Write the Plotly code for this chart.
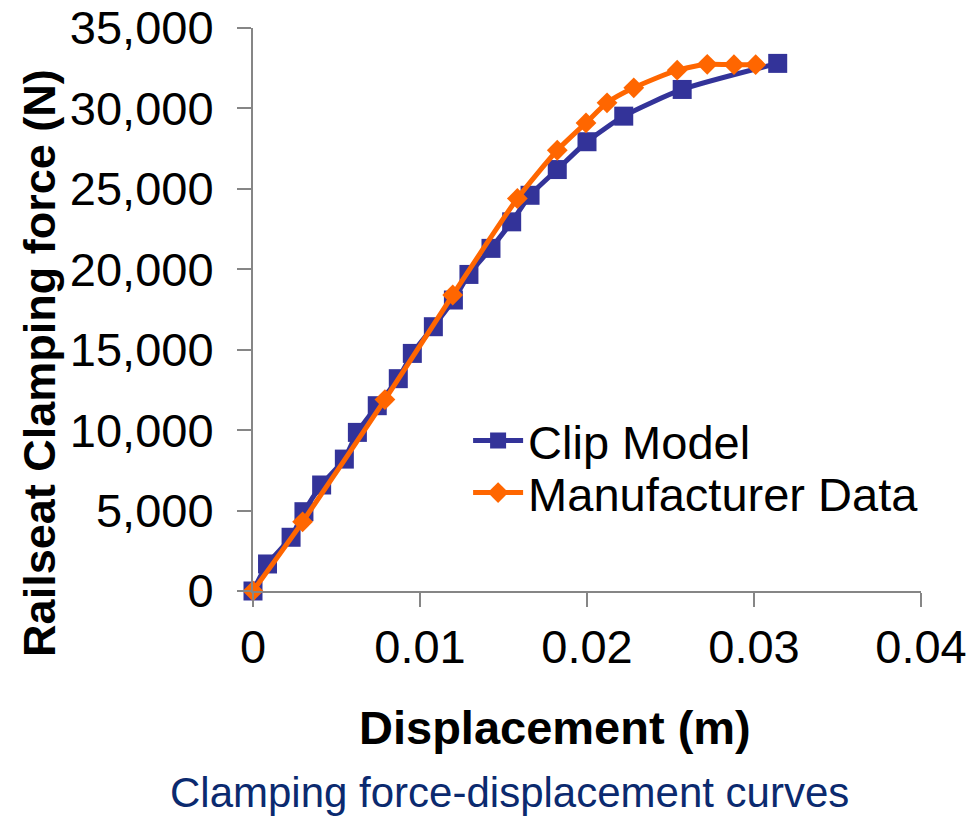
import plotly.graph_objects as go

# Clip model: displacement (m) vs railseat clamping force (N)
clip_disp = [0, 0.00087, 0.00228, 0.00305, 0.00411, 0.00547, 0.00625, 0.00744,
             0.0087, 0.00954, 0.0108, 0.0120, 0.01293, 0.01425, 0.01549,
             0.01659, 0.01822, 0.0200, 0.0222, 0.0257, 0.03142]
clip_force = [0, 1680, 3340, 4930, 6590, 8200, 9860, 11520, 13200, 14770,
              16430, 18090, 19680, 21300, 22950, 24600, 26200, 27930, 29520,
              31180, 32800]

# Manufacturer data
mfr_disp = [0, 0.00297, 0.0079, 0.01196, 0.01583, 0.01822, 0.01994, 0.0212,
            0.0228, 0.0254, 0.0272, 0.0288, 0.0301]
mfr_force = [0, 4300, 11900, 18400, 24400, 27400, 29100, 30350, 31280, 32380,
             32740, 32720, 32720]

series_names = ["Clip Model", "Manufacturer Data"]
x_title = "Displacement (m)"
y_title = "Railseat Clamping force (N)"
caption = "Clamping force-displacement curves"

FONT = "Liberation Sans, Arial, sans-serif"
AXIS_GREY = "#868686"

fig = go.Figure()
fig.add_trace(go.Scatter(
    x=clip_disp, y=clip_force, name=series_names[0], mode="lines+markers",
    line=dict(color="#333399", width=5, shape="spline", smoothing=0.6),
    marker=dict(symbol="square", size=19, color="#333399"),
    cliponaxis=False, legend="legend",
))
fig.add_trace(go.Scatter(
    x=mfr_disp, y=mfr_force, name=series_names[1], mode="lines+markers",
    line=dict(color="#FF6600", width=5, shape="spline", smoothing=0.6),
    marker=dict(symbol="diamond", size=16, color="#FF6600"),
    cliponaxis=False, legend="legend2",
))

axis_common = dict(
    showline=True, linecolor=AXIS_GREY, linewidth=2,
    ticks="outside", ticklen=14, tickwidth=2, tickcolor=AXIS_GREY,
    showgrid=False, zeroline=False, automargin=False,
    tickfont=dict(family=FONT, size=47, color="#000000"),
)

legend_common = dict(
    xanchor="left", yanchor="middle",
    font=dict(family=FONT, size=47, color="#000000"),
    bgcolor="rgba(0,0,0,0)", itemwidth=50,
)

fig.update_layout(
    width=979, height=819,
    margin=dict(l=253, r=58, t=28, b=228, autoexpand=False),
    paper_bgcolor="white", plot_bgcolor="white",
    font=dict(family=FONT, color="#000000"),
    xaxis=dict(range=[0, 0.04], dtick=0.01, tick0=0, **axis_common),
    yaxis=dict(range=[0, 35000], dtick=5000, tickformat=",d",
               ticklabelstandoff=14, **axis_common),
    legend=dict(x=0.322, y=0.2664, **legend_common),
    legend2=dict(x=0.322, y=0.174, **legend_common),
    showlegend=True,
)

fig.add_annotation(
    text=f"<b>{x_title}</b>", xref="paper", yref="paper",
    x=0.452, y=-0.2416, xanchor="center", yanchor="middle", showarrow=False,
    font=dict(family=FONT, size=47, color="#000000"),
)
fig.add_annotation(
    text=f"<b>{y_title}</b>", xref="paper", yref="paper",
    x=-0.319, y=0.405, xanchor="center", yanchor="middle", showarrow=False,
    textangle=-90, font=dict(family=FONT, size=45, color="#000000"),
)
fig.add_annotation(
    text=caption, xref="paper", yref="paper",
    x=0.3847, y=-0.3585, xanchor="center", yanchor="middle", showarrow=False,
    font=dict(family=FONT, size=42, color="#0B2A6F"),
)

fig.write_html("out.html")
